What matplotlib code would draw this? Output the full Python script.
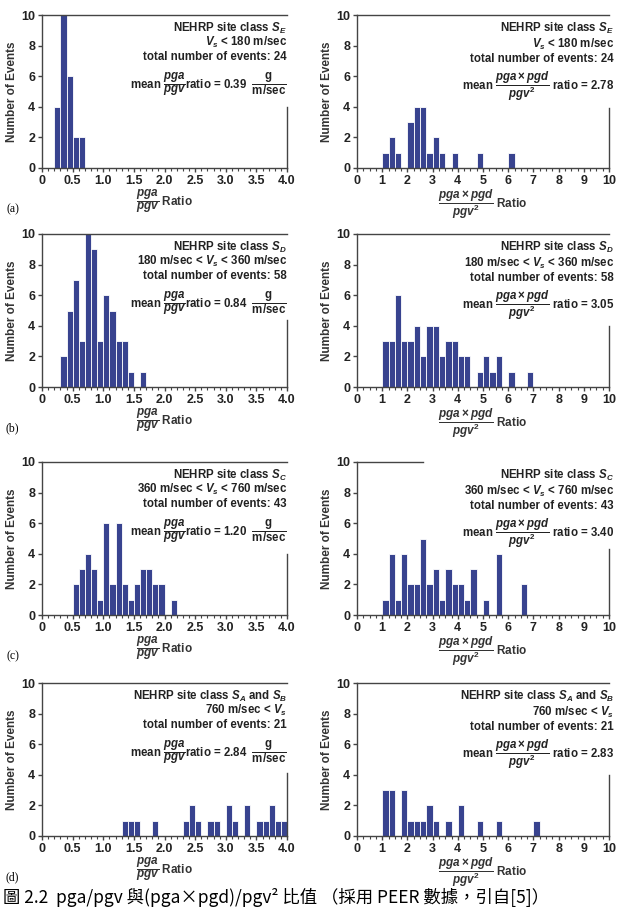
import matplotlib.pyplot as plt
import numpy as np

plt.rcParams['font.family'] = ['Liberation Sans', 'Noto Sans CJK TC']
plt.rcParams['font.weight'] = 'bold'
plt.rcParams['axes.labelweight'] = 'bold'
plt.rcParams['mathtext.fontset'] = 'custom'
plt.rcParams['mathtext.rm'] = 'Liberation Sans:bold'
plt.rcParams['mathtext.bf'] = 'Liberation Sans:bold'
plt.rcParams['mathtext.it'] = 'Liberation Sans:italic:bold'

# histogram counts
# left column: pga/pgv, bins of 0.1 ; right column: pga*pgd/pgv^2, bins of 0.25
left_start = [0.2, 0.3, 0.5, 1.3]
left_counts = [
    [4, 10, 6, 2, 2],
    [2, 5, 7, 3, 10, 9, 3, 6, 5, 3, 3, 1, 0, 1],
    [2, 3, 4, 3, 1, 6, 2, 6, 2, 1, 2, 3, 3, 2, 2, 0, 1],
    [1, 1, 1, 0, 0, 1, 0, 0, 0, 0, 1, 2, 1, 0, 1, 1, 0, 2, 1, 0, 2, 0, 1, 1, 2, 1, 1],
]
right_start = [1.0, 1.0, 1.0, 1.0]
right_counts = [
    [1, 2, 1, 0, 3, 4, 4, 1, 2, 1, 0, 1, 0, 0, 0, 1, 0, 0, 0, 0, 1],
    [3, 3, 6, 3, 3, 4, 2, 4, 4, 2, 3, 3, 2, 2, 0, 1, 2, 1, 2, 0, 1, 0, 0, 1],
    [1, 4, 1, 4, 2, 2, 5, 2, 3, 1, 3, 2, 2, 1, 3, 0, 1, 0, 4, 0, 0, 0, 2],
    [3, 3, 0, 3, 1, 1, 1, 2, 1, 0, 1, 0, 2, 0, 0, 1, 0, 0, 1, 0, 0, 0, 0, 0, 1],
]
left_bin = 0.1
right_bin = 0.25

site_class = ['$S_E$', '$S_D$', '$S_C$', '$S_A$ and $S_B$']
vs_range = ['$V_s$ < 180 m/sec', '180 m/sec < $V_s$ < 360 m/sec',
            '360 m/sec < $V_s$ < 760 m/sec', '760 m/sec < $V_s$']
totals = [24, 58, 43, 21]
mean_pga_pgv = ['0.39', '0.84', '1.20', '2.84']
mean_ratio2 = ['2.78', '3.05', '3.40', '2.83']
panel_tags = ['(a)', '(b)', '(c)', '(d)']

left_ticks = [0, 0.5, 1.0, 1.5, 2.0, 2.5, 3.0, 3.5, 4.0]
left_ticklabels = ['0', '0.5', '1.0', '1.5', '2.0', '2.5', '3.0', '3.5', '4.0']
right_ticks = list(range(0, 11))

bar_color = '#38438f'
W, H = 626, 907
fig = plt.figure(figsize=(W / 100, H / 100), dpi=100)


def px_axes(x0, y0, x1, y1):
    return fig.add_axes([x0 / W, 1 - y1 / H, (x1 - x0) / W, (y1 - y0) / H])


row_top = [15, 234, 462, 683]
row_h = 153
# where the right spine starts to be visible (text box hides the rest)
left_spine_top = [4.0, 4.4, 4.0, 4.1]
right_spine_top = [3.9, 4.0, 4.3, 4.0]
right_top_end = [10, 10, 2.6, 10]


def style(ax, xmax, minor, spine_top, top_end):
    ax.set_ylim(0, 10)
    ax.set_xlim(0, xmax)
    ax.set_yticks([0, 2, 4, 6, 8, 10])
    ax.set_xticks(np.arange(0, xmax + minor / 2, minor), minor=True)
    ax.spines['right'].set_bounds(0, spine_top)
    ax.spines['top'].set_bounds(0, top_end)
    for s in ax.spines.values():
        s.set_color('#444444')
        s.set_linewidth(1.0)
    ax.tick_params(axis='both', which='major', labelsize=9, length=3,
                   width=1, color='#444444', pad=2, labelcolor='#222222')
    ax.tick_params(axis='x', which='minor', length=2, width=0.8, color='#444444')
    ax.set_ylabel('Number of Events', fontsize=8.5, labelpad=2, color='#333333')


for i in range(4):
    top = row_top[i]
    # left column
    ax = px_axes(42, top, 287, top + row_h)
    x = left_start[i] + left_bin * np.arange(len(left_counts[i]))
    ax.bar(x, left_counts[i], width=left_bin, align='edge', color=bar_color,
           edgecolor='white', linewidth=0.6)
    style(ax, 4.0, 0.1, left_spine_top[i], 4.0)
    ax.set_xticks(left_ticks)
    ax.set_xticklabels(left_ticklabels)
    ax.set_xlabel(r'$\dfrac{pga}{pgv}$ Ratio', fontsize=8.5, labelpad=0, color='#333333')
    lines = ['NEHRP site class ' + site_class[i], vs_range[i],
             'total number of events: %d' % totals[i]]
    for k, y in enumerate([0.915, 0.82, 0.725]):
        ax.text(1.0, y, lines[k], transform=ax.transAxes, ha='right', va='center',
                fontsize=8.3, color='#222222')
    ax.text(1.0, 0.55, r'mean $\dfrac{pga}{pgv}$ratio = ' + mean_pga_pgv[i]
            + r'  $\dfrac{\mathrm{g}}{\mathrm{m/sec}}$',
            transform=ax.transAxes, ha='right', va='center', fontsize=8.3,
            color='#222222')
    ax.text(-0.12, -0.27, panel_tags[i], transform=ax.transAxes, ha='center',
            va='center', fontsize=8.5, family='Liberation Serif', weight='normal')

    # right column
    ax = px_axes(357, top, 609, top + row_h)
    x = right_start[i] + right_bin * np.arange(len(right_counts[i]))
    ax.bar(x, right_counts[i], width=right_bin, align='edge', color=bar_color,
           edgecolor='white', linewidth=0.6)
    style(ax, 10, 0.25, right_spine_top[i], right_top_end[i])
    ax.set_xticks(right_ticks)
    ax.set_xlabel(r'$\dfrac{pga\times pgd}{pgv^{2}}$ Ratio', fontsize=8.5, labelpad=0,
                  color='#333333')
    for k, y in enumerate([0.91, 0.81, 0.71]):
        ax.text(1.02, y, lines[k], transform=ax.transAxes, ha='right', va='center',
                fontsize=8.3, color='#222222')
    ax.text(1.02, 0.535, r'mean $\dfrac{pga\times pgd}{pgv^{2}}$ ratio = ' + mean_ratio2[i],
            transform=ax.transAxes, ha='right', va='center', fontsize=8.3,
            color='#222222')

fig.text(0.005, 1 - 897 / H,
         '圖 2.2  pga/pgv 與(pga×pgd)/pgv² 比值 （採用 PEER 數據，引自[5]）',
         fontsize=12.5, family=['Noto Sans CJK TC', 'DejaVu Sans'], weight='normal',
         ha='left', va='center')

fig.savefig('out.png', dpi=100)
